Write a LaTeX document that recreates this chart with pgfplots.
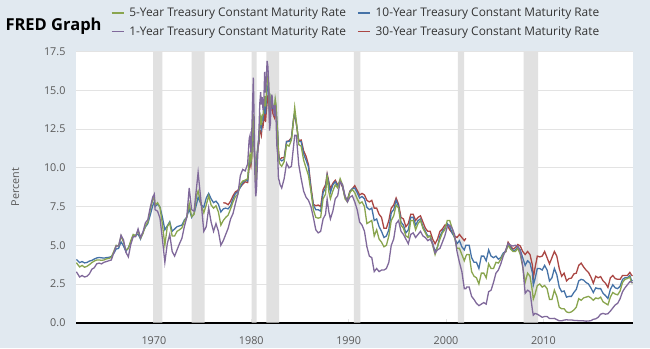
\documentclass[border=0pt]{standalone}
\usepackage{fontspec}
\setmainfont{Open Sans}
\usepackage{pgfplots}
\usepackage{pgfplotstable}
\pgfplotsset{compat=1.18}
\definecolor{bgcol}{HTML}{E1E9F0}
\definecolor{recc}{HTML}{E1E1E1}
\definecolor{gridc}{HTML}{E3E3E3}
\definecolor{tickc}{HTML}{595959}
\definecolor{c1}{HTML}{80699B}
\definecolor{c5}{HTML}{89A54E}
\definecolor{c10}{HTML}{4572A7}
\definecolor{c30}{HTML}{AA4643}
\pgfplotstableread{
x y1 y5 y10 y30
1962.04 3.29 3.88 4.08 nan
1962.125 3.20 3.80 4.04 nan
1962.375 2.95 3.60 3.88 nan
1962.625 3.05 3.70 3.95 nan
1962.875 2.95 3.58 3.86 nan
1963.125 3.00 3.64 3.89 nan
1963.375 3.15 3.75 3.98 nan
1963.625 3.45 3.88 4.02 nan
1963.875 3.55 3.98 4.11 nan
1964.125 3.80 4.05 4.18 nan
1964.375 3.85 4.05 4.21 nan
1964.625 3.80 4.03 4.19 nan
1964.875 3.90 4.05 4.17 nan
1965.125 3.95 4.12 4.20 nan
1965.375 4.00 4.15 4.22 nan
1965.625 4.05 4.22 4.27 nan
1965.875 4.50 4.60 4.47 nan
1966.125 4.95 5.00 4.76 nan
1966.375 4.95 4.95 4.80 nan
1966.625 5.65 5.60 5.22 nan
1966.875 5.35 5.20 4.96 nan
1967.125 4.55 4.70 4.60 nan
1967.375 4.25 4.78 4.85 nan
1967.625 5.05 5.30 5.20 nan
1967.875 5.55 5.70 5.65 nan
1968.125 5.55 5.60 5.65 nan
1968.375 6.05 5.95 5.72 nan
1968.625 5.50 5.45 5.40 nan
1968.875 5.85 5.75 5.85 nan
1969.125 6.45 6.25 6.18 nan
1969.375 6.65 6.50 6.40 nan
1969.625 7.45 7.30 6.95 nan
1969.875 8.10 7.90 7.55 nan
1970.04 8.30 8.15 7.80 nan
1970.125 7.30 7.60 7.50 nan
1970.375 7.20 7.75 7.65 nan
1970.625 6.75 7.45 7.47 nan
1970.875 5.40 6.35 6.80 nan
1971.125 3.90 5.00 6.00 nan
1971.375 5.10 6.20 6.25 nan
1971.625 5.70 6.45 6.52 nan
1971.875 4.60 5.60 5.90 nan
1972.125 4.30 5.60 6.05 nan
1972.375 4.70 5.90 6.20 nan
1972.625 5.10 6.00 6.25 nan
1972.875 5.45 6.12 6.30 nan
1973.125 6.20 6.55 6.63 nan
1973.375 6.80 6.80 6.82 nan
1973.625 8.70 7.70 7.35 nan
1973.875 7.30 6.85 6.80 nan
1974.125 7.20 7.00 7.05 nan
1974.375 8.70 8.20 7.65 nan
1974.54 9.70 8.50 8.10 nan
1974.875 7.60 7.55 7.60 nan
1975.125 5.90 7.10 7.45 nan
1975.375 6.20 7.60 8.05 nan
1975.625 7.40 8.20 8.35 nan
1975.875 6.50 7.60 8.00 nan
1976.125 5.90 7.40 7.75 nan
1976.375 6.40 7.55 7.85 nan
1976.625 5.90 7.15 7.65 nan
1976.875 5.00 6.30 7.15 nan
1977.125 5.30 6.60 7.35 7.75
1977.375 5.70 6.80 7.40 7.72
1977.625 6.10 6.95 7.35 7.62
1977.875 6.70 7.35 7.55 7.85
1978.125 7.05 7.80 8.00 8.20
1978.375 7.70 8.15 8.35 8.45
1978.625 8.30 8.30 8.45 8.55
1978.875 9.50 8.95 8.75 8.75
1979.125 9.90 9.15 9.05 8.95
1979.375 9.80 9.20 9.20 9.10
1979.625 10.25 9.30 9.15 9.05
1979.79 11.90 10.60 10.30 10.10
1979.875 12.10 10.90 10.65 10.35
1979.96 11.00 10.40 10.40 10.10
1980.04 12.06 10.74 10.80 10.60
1980.125 13.92 12.60 12.41 12.13
1980.21 15.82 13.47 12.75 12.34
1980.29 13.30 11.84 11.47 11.40
1980.375 9.39 9.95 10.18 10.36
1980.46 8.16 9.21 9.78 9.81
1980.54 8.65 9.53 10.25 10.24
1980.625 10.24 10.84 11.10 11.00
1980.71 11.52 11.62 11.51 11.34
1980.79 12.49 11.86 11.75 11.59
1980.875 14.15 12.83 12.68 12.37
1980.96 14.88 13.25 12.84 12.40
1981.04 14.08 12.77 12.57 12.14
1981.125 14.57 13.41 13.19 12.80
1981.21 13.71 13.41 13.12 12.69
1981.29 14.32 13.99 13.68 13.20
1981.375 16.20 14.63 14.10 13.60
1981.46 14.86 13.95 13.47 12.96
1981.54 15.72 14.79 14.28 13.59
1981.625 16.90 15.56 14.94 14.17
1981.71 16.52 15.93 15.32 14.67
1981.79 15.38 15.41 15.15 14.68
1981.875 12.41 13.38 13.39 13.35
1981.96 12.85 13.60 13.72 13.45
1982.04 14.32 14.65 14.59 14.22
1982.125 14.73 14.54 14.43 14.22
1982.21 13.95 13.98 13.86 13.53
1982.29 13.98 14.00 13.87 13.37
1982.375 13.34 13.75 13.62 13.24
1982.46 14.07 14.43 14.30 13.92
1982.54 13.24 14.07 13.95 13.55
1982.625 11.43 13.00 13.06 12.77
1982.71 10.85 12.25 12.34 12.07
1982.79 9.32 10.80 10.91 11.17
1982.875 9.16 10.38 10.55 10.54
1982.96 8.91 10.22 10.54 10.54
1983.125 8.70 10.10 10.45 10.65
1983.375 9.30 10.40 10.55 10.65
1983.625 10.30 11.50 11.70 11.70
1983.875 10.00 11.40 11.70 11.75
1984.125 10.10 11.80 11.90 11.95
1984.375 11.60 13.30 13.35 13.30
1984.46 12.10 13.90 13.56 13.44
1984.625 12.10 13.00 12.90 12.85
1984.875 10.20 11.50 11.70 11.75
1985.125 9.30 11.40 11.70 11.80
1985.375 8.50 10.50 10.90 11.10
1985.625 8.10 10.00 10.50 10.75
1985.875 7.90 9.50 10.05 10.20
1986.125 7.50 8.50 8.60 8.80
1986.375 6.80 7.30 7.60 7.65
1986.625 6.00 6.80 7.30 7.55
1986.875 5.80 6.75 7.30 7.60
1987.125 5.90 6.80 7.20 7.50
1987.375 6.70 8.00 8.40 8.60
1987.625 7.00 8.30 8.70 8.90
1987.79 7.99 9.52 9.52 9.61
1987.96 7.17 8.45 8.99 9.12
1988.125 6.70 8.00 8.40 8.65
1988.375 7.20 8.50 8.90 9.00
1988.625 8.00 8.90 9.10 9.20
1988.875 8.20 8.70 8.80 8.90
1989.125 9.10 9.30 9.20 9.10
1989.375 8.90 8.90 8.80 8.75
1989.625 8.20 8.00 8.10 8.10
1989.875 7.80 7.80 7.90 7.95
1990.125 8.10 8.40 8.45 8.50
1990.375 8.20 8.60 8.65 8.65
1990.625 7.80 8.40 8.70 8.85
1990.875 7.30 8.00 8.40 8.55
1991.125 6.50 7.70 8.05 8.25
1991.375 6.30 7.80 8.15 8.35
1991.625 5.90 7.50 8.00 8.25
1991.875 4.90 6.40 7.45 7.90
1992.125 4.30 6.50 7.30 7.80
1992.375 4.20 6.60 7.40 7.90
1992.625 3.30 5.60 6.60 7.40
1992.875 3.50 6.00 6.70 7.40
1993.125 3.30 5.40 6.20 7.00
1993.375 3.40 5.20 5.90 6.80
1993.625 3.40 4.90 5.50 6.10
1993.875 3.50 5.00 5.60 6.10
1994.125 3.90 5.60 6.00 6.60
1994.375 5.00 6.60 7.10 7.40
1994.625 5.40 6.90 7.30 7.60
1994.875 6.40 7.60 7.90 8.05
1995.125 6.60 7.40 7.50 7.65
1995.375 5.90 6.30 6.50 6.80
1995.625 5.70 6.10 6.30 6.70
1995.875 5.40 5.60 5.80 6.20
1996.125 5.10 5.50 6.00 6.40
1996.375 5.70 6.60 6.80 7.00
1996.625 5.80 6.60 6.80 7.00
1996.875 5.50 6.00 6.30 6.60
1997.125 5.70 6.40 6.60 6.80
1997.375 5.90 6.60 6.70 6.90
1997.625 5.60 6.10 6.20 6.50
1997.875 5.50 5.80 5.90 6.10
1998.125 5.30 5.50 5.60 5.90
1998.375 5.40 5.60 5.60 5.90
1998.625 5.10 5.00 5.10 5.40
1998.875 4.50 4.40 4.60 5.10
1999.125 4.70 4.90 4.90 5.40
1999.375 4.80 5.40 5.60 5.90
1999.625 5.20 5.80 5.90 6.05
1999.875 5.60 6.00 6.10 6.30
2000.125 6.20 6.60 6.40 6.30
2000.375 6.30 6.60 6.20 6.00
2000.625 6.10 6.10 5.80 5.80
2000.875 5.70 5.50 5.50 5.60
2001.125 4.60 4.80 5.10 5.50
2001.375 3.90 4.80 5.30 5.70
2001.625 3.30 4.40 4.90 5.50
2001.875 2.20 4.00 4.70 5.30
2002.04 2.20 4.30 5.00 5.45
2002.125 2.30 4.40 5.00 nan
2002.375 2.30 4.40 5.00 nan
2002.625 1.70 3.30 4.20 nan
2002.875 1.50 3.00 3.90 nan
2003.125 1.25 2.90 3.90 nan
2003.375 1.10 2.50 3.50 nan
2003.625 1.20 3.20 4.30 nan
2003.875 1.30 3.20 4.30 nan
2004.125 1.20 2.90 4.00 nan
2004.375 2.00 3.80 4.70 nan
2004.625 2.10 3.50 4.30 nan
2004.875 2.60 3.50 4.20 nan
2005.125 3.20 3.90 4.30 nan
2005.375 3.40 3.85 4.10 nan
2005.625 3.80 4.10 4.20 nan
2005.875 4.30 4.40 4.50 nan
2006.125 4.70 4.60 4.60 4.55
2006.375 5.10 5.00 5.10 5.20
2006.625 5.00 4.75 4.85 4.95
2006.875 4.95 4.60 4.65 4.75
2007.125 5.00 4.60 4.70 4.85
2007.375 4.95 4.80 4.90 5.05
2007.625 4.60 4.40 4.70 4.95
2007.875 3.70 3.60 4.20 4.60
2008.125 1.90 2.60 3.70 4.40
2008.375 2.10 3.20 4.00 4.60
2008.625 2.00 3.00 3.85 4.40
2008.875 0.80 2.00 3.20 3.70
2008.96 0.49 1.52 2.42 2.87
2009.125 0.60 1.80 2.80 3.50
2009.375 0.55 2.40 3.50 4.30
2009.625 0.45 2.50 3.50 4.25
2009.875 0.35 2.30 3.40 4.30
2010.125 0.40 2.40 3.70 4.60
2010.375 0.40 2.20 3.40 4.20
2010.625 0.27 1.50 2.70 3.80
2010.875 0.27 1.50 2.90 4.20
2011.125 0.28 2.10 3.50 4.60
2011.375 0.20 1.70 3.10 4.30
2011.625 0.12 1.00 2.30 3.50
2011.875 0.12 0.90 2.00 3.00
2012.125 0.17 0.90 2.05 3.20
2012.375 0.19 0.70 1.65 2.70
2012.625 0.17 0.65 1.70 2.85
2012.875 0.18 0.70 1.70 2.88
2013.125 0.15 0.82 1.95 3.15
2013.375 0.14 1.00 2.15 3.20
2013.625 0.13 1.55 2.70 3.70
2013.875 0.12 1.45 2.80 3.85
2014.125 0.12 1.60 2.75 3.60
2014.375 0.10 1.65 2.60 3.40
2014.625 0.11 1.70 2.50 3.25
2014.875 0.13 1.60 2.25 2.95
2015.125 0.22 1.45 1.95 2.55
2015.375 0.25 1.60 2.25 3.00
2015.625 0.35 1.55 2.20 2.90
2015.875 0.55 1.65 2.20 2.98
2016.125 0.60 1.35 1.90 2.70
2016.375 0.55 1.25 1.75 2.55
2016.625 0.58 1.15 1.56 2.28
2016.875 0.75 1.65 2.15 2.90
2017.125 0.95 1.95 2.45 3.05
2017.375 1.15 1.85 2.25 2.85
2017.625 1.25 1.80 2.20 2.80
2017.875 1.55 2.05 2.35 2.80
2018.125 2.00 2.60 2.80 3.05
2018.375 2.25 2.80 2.90 3.05
2018.625 2.45 2.85 2.90 3.05
2018.875 2.65 2.95 3.05 3.25
2019.04 2.63 2.60 2.75 3.08
2019.15 2.58 2.55 2.70 3.02
}\rates
\begin{document}
\begin{tikzpicture}
\path[use as bounding box, fill=bgcol] (0pt,0pt) rectangle (650pt,348pt);
\node[anchor=west, font=\fontsize{16.5}{18}\selectfont\bfseries, text=black] at (2pt,322pt) {FRED Graph};
\begin{axis}[
  at={(76pt,25.3pt)}, anchor=south west,
  scale only axis, width=557pt, height=271pt,
  xmin=1962, xmax=2019.2, ymin=0, ymax=17.5,
  axis background/.style={fill=white},
  axis x line*=bottom, axis y line*=left,
  x axis line style={line width=1.6pt, black, -},
  y axis line style={draw=none},
  xtick={1970,1980,1990,2000,2010},
  ytick={0,2.5,5,7.5,10,12.5,15,17.5},
  x tick style={draw=gridc, line width=0.6pt},
  major tick length=4pt,
  y tick style={draw=none},
  ymajorgrids, grid style={gridc, line width=0.8pt},
  xticklabel style={/pgf/number format/1000 sep={}, yshift=-10pt},
  yticklabel style={/pgf/number format/fixed, /pgf/number format/fixed zerofill, /pgf/number format/precision=1, xshift=-7pt},
  /pgf/number format/assume math mode=true,
  tick label style={font=\fontsize{10.8}{12}\selectfont, text=tickc},
  ylabel={Percent}, ylabel style={font=\fontsize{10.8}{12}\selectfont, text=tickc, at={(axis description cs:-0.109,0.5)}, anchor=center},
  unbounded coords=jump,
  legend columns=2,
  legend cell align=left,
  legend style={at={(rel axis cs:0.062,1.169)}, anchor=north west, draw=none, fill=none, inner sep=0pt,
    font=\fontsize{11.9}{13}\selectfont, text=tickc!60!black,
    /tikz/every odd column/.append style={column sep=3pt},
    /tikz/every even column/.append style={column sep=9pt}, row sep=4pt},
  legend image code/.code={\draw[#1, line width=1.6pt] (0pt,0pt) -- (12pt,0pt);},
  clip=true,
]
\addlegendimage{c5}\addlegendentry{5-Year Treasury Constant Maturity Rate}
\addlegendimage{c10}\addlegendentry{10-Year Treasury Constant Maturity Rate}
\addlegendimage{c1}\addlegendentry{1-Year Treasury Constant Maturity Rate}
\addlegendimage{c30}\addlegendentry{30-Year Treasury Constant Maturity Rate}
% recessions
\addplot[fill=recc, draw=none, forget plot] coordinates {(1969.92,0)(1969.92,17.5)(1970.87,17.5)(1970.87,0)} \closedcycle;
\addplot[fill=recc, draw=none, forget plot] coordinates {(1973.87,0)(1973.87,17.5)(1975.21,17.5)(1975.21,0)} \closedcycle;
\addplot[fill=recc, draw=none, forget plot] coordinates {(1980.04,0)(1980.04,17.5)(1980.54,17.5)(1980.54,0)} \closedcycle;
\addplot[fill=recc, draw=none, forget plot] coordinates {(1981.54,0)(1981.54,17.5)(1982.87,17.5)(1982.87,0)} \closedcycle;
\addplot[fill=recc, draw=none, forget plot] coordinates {(1990.54,0)(1990.54,17.5)(1991.21,17.5)(1991.21,0)} \closedcycle;
\addplot[fill=recc, draw=none, forget plot] coordinates {(2001.21,0)(2001.21,17.5)(2001.87,17.5)(2001.87,0)} \closedcycle;
\addplot[fill=recc, draw=none, forget plot] coordinates {(2007.96,0)(2007.96,17.5)(2009.46,17.5)(2009.46,0)} \closedcycle;
\addplot[c30, line width=1.3pt, forget plot] table[x=x, y=y30] {\rates};
\addplot[c10, line width=1.3pt, forget plot] table[x=x, y=y10] {\rates};
\addplot[c5, line width=1.3pt, forget plot] table[x=x, y=y5] {\rates};
\addplot[c1, line width=1.3pt, forget plot] table[x=x, y=y1] {\rates};
\end{axis}
\end{tikzpicture}
\end{document}
